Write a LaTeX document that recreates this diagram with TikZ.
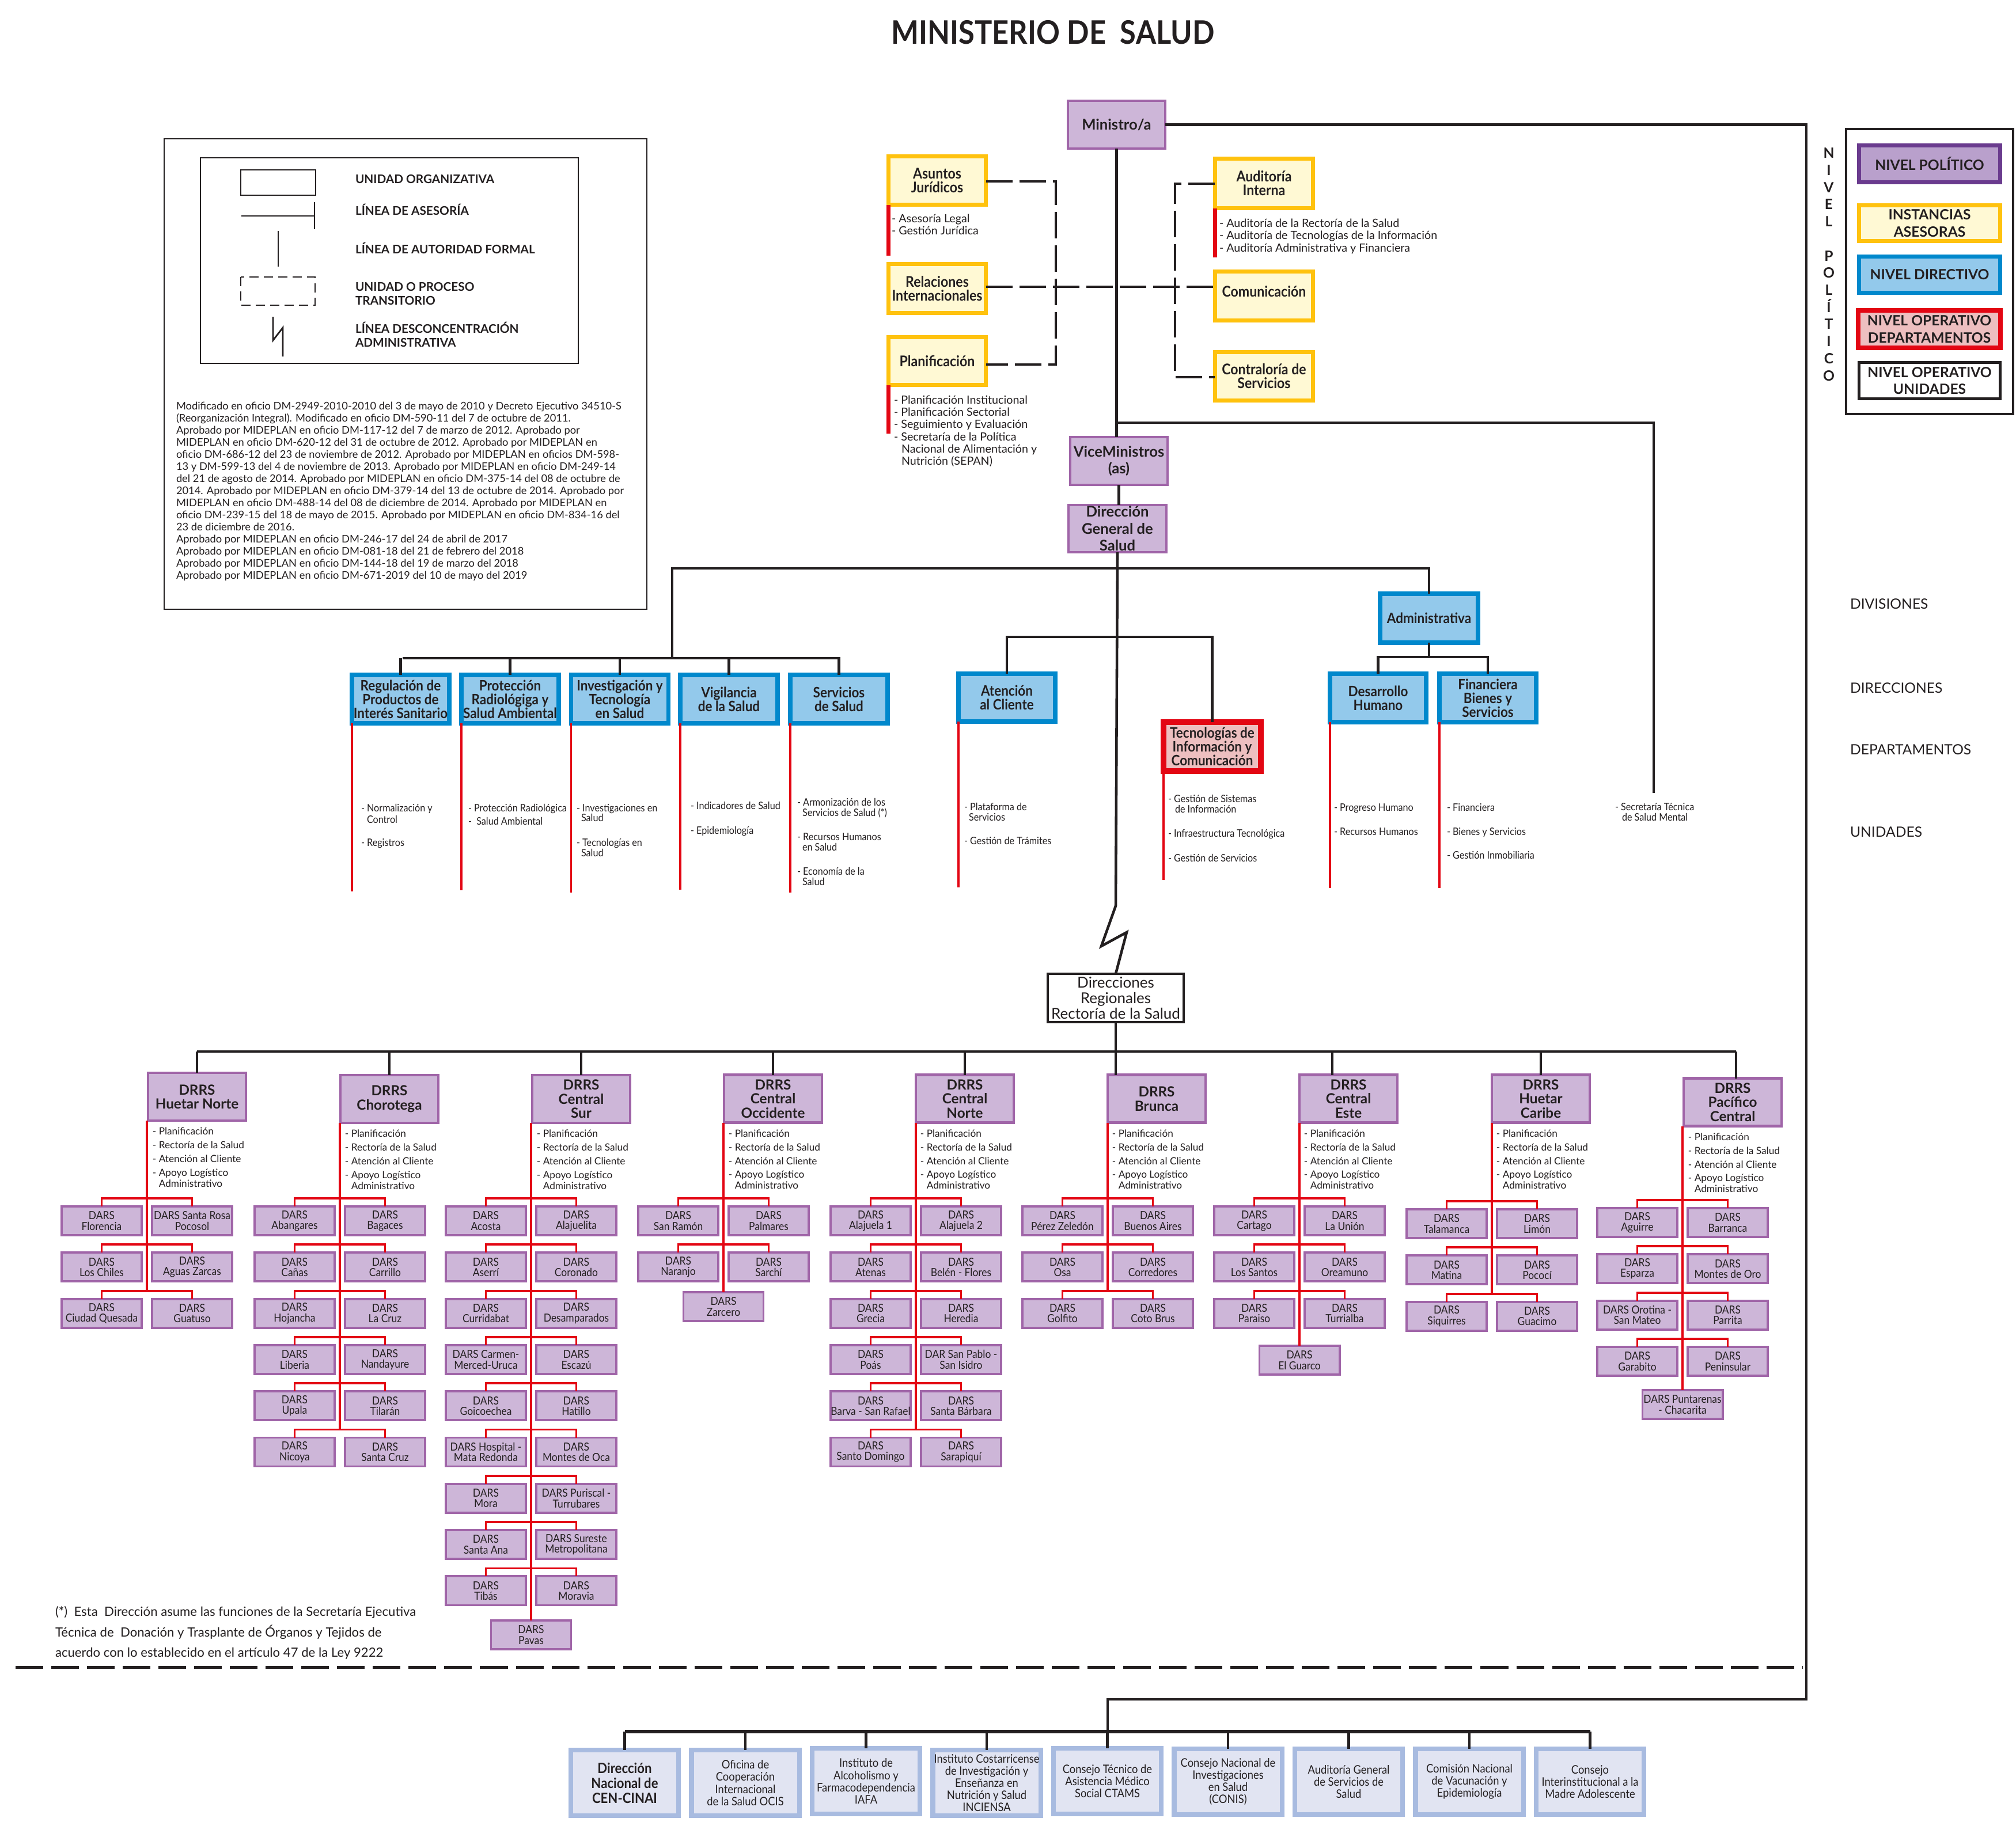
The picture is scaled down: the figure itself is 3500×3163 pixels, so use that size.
\documentclass[tikz,border=0pt]{standalone}
\usepackage{fontspec}
\setmainfont{Lato}
\newfontfamily\lc{Lato}[FakeStretch=0.9]
\usetikzlibrary{calc}
\definecolor{txt}{HTML}{231F20}
\definecolor{pfill}{HTML}{CDB6D8}
\definecolor{pline}{HTML}{A065A8}
\definecolor{yfill}{HTML}{FFF9D4}
\definecolor{yline}{HTML}{FFC20E}
\definecolor{bfill}{HTML}{93C9EB}
\definecolor{bline}{HTML}{0088CC}
\definecolor{rfill}{HTML}{EDBFC0}
\definecolor{rline}{HTML}{E30613}
\definecolor{gfill}{HTML}{E1E4F2}
\definecolor{gline}{HTML}{A8BBE0}
\definecolor{lpfill}{HTML}{B9A0CC}
\definecolor{lpline}{HTML}{6A3B8E}
\definecolor{redc}{HTML}{E30613}
\newcommand\fsz[2]{\fontsize{#1}{#2}\selectfont}
\newcommand\txl[5][itm]{\node[#1] (#2) at (#3,#4) {#5};}
\newcommand\darsrow[5]{%
  \coordinate (#1r#2) at (\xr,#3);
  \node[dars] (#1l#2) at (\xr-78.5,#3+39) {#4};
  \node[dars] (#1q#2) at (\xr+78.5,#3+39) {#5};
  \draw[redl] (#1l#2.north) |- (#1r#2) -| (#1q#2.north);}
\newcommand\ditems{- Planificación\\- Rectoría de la Salud\\- Atención al Cliente\\- Apoyo Logístico\\[-1.4pt]\phantom{- }Administrativo}
\begin{document}
\begin{tikzpicture}[x=0.01cm,y=-0.01cm,
  every node/.style={inner sep=0pt,outer sep=0pt,text=txt},
  conn/.style={draw=txt,line width=1.3pt},
  bus/.style={draw=txt,line width=1.7pt},
  dsh/.style={draw=txt,line width=1.3pt,dash pattern=on 0.46cm off 0.12cm},
  redl/.style={draw=redc,line width=1.1pt},
  redbar/.style={draw=redc,line width=2pt},
  pbox/.style={draw=pline,fill=pfill,line width=1.2pt,align=center,font=\bfseries\fsz{7.3}{8.4}},
  ybox/.style={draw=yline,fill=yfill,line width=1.9pt,align=center,font=\lc\bfseries\fsz{7.3}{6.8}},
  bbox/.style={draw=bline,fill=bfill,line width=2.2pt,align=center,font=\lc\bfseries\fsz{7.1}{6.8}},
  rbox/.style={draw=rline,fill=rfill,line width=2.8pt,align=center,font=\lc\bfseries\fsz{7.1}{6.8}},
  gbox/.style={draw=gline,fill=gfill,line width=2.3pt,align=center,font=\lc\fsz{5.8}{6},minimum width=1.87cm,minimum height=1.14cm},
  wbox/.style={draw=txt,fill=white,line width=1.2pt,align=center,font=\fsz{7.4}{7.7}},
  drrs/.style={pbox,font=\bfseries\fsz{6.9}{6.97},minimum width=1.70cm,minimum height=0.83cm},
  dars/.style={draw=pline,fill=pfill,line width=1.1pt,align=center,font=\lc\fsz{5.5}{5.2},minimum width=1.39cm,minimum height=0.50cm},
  itm/.style={font=\lc\fsz{5.1}{5.4},anchor=base west},
  aitm/.style={font=\fsz{5.6}{6},anchor=base west},
  ditm/.style={font=\fsz{4.9}{6.8},align=left,anchor=north west},
  legl/.style={font=\bfseries\fsz{5.9}{6.8},align=left,anchor=west},
  lgbox/.style={line width=2pt,align=center,font=\bfseries\fsz{7}{8.4},minimum width=2.45cm,minimum height=0.63cm},
  lvl/.style={font=\fsz{7}{8},anchor=west}
]
\useasboundingbox (0,0) rectangle (3500,3163);
\fill[white] (0,0) rectangle (3500,3163);

% ---------- title ----------
\node[font=\lc\bfseries\fsz{16}{17}] (title) at (1828,56) {MINISTERIO DE\ \ SALUD};

% ---------- left legend ----------
\draw[line width=0.8pt,txt] (285,241) rectangle (1123,1058);
\draw[line width=0.8pt,txt] (348,274) rectangle (1004,631);
\draw[line width=0.8pt,txt] (418,295) rectangle (548,339);
\draw[line width=0.8pt,txt] (419,375) -- (546,375) (546,351) -- (546,398);
\draw[line width=0.8pt,txt] (483,401) -- (483,463);
\draw[line width=0.8pt,txt,dash pattern=on 0.16cm off 0.09cm] (418,481) rectangle (547,530);
\draw[line width=0.8pt,txt] (474,550) -- (474,591) -- (491,569) -- (491,619);
\node[legl] (lg1) at (617,311) {UNIDAD ORGANIZATIVA};
\node[legl] (lg2) at (617,364) {LÍNEA DE ASESORÍA};
\node[legl] (lg3) at (617,431) {LÍNEA DE AUTORIDAD FORMAL};
\node[legl] (lg4) at (617,510) {UNIDAD O PROCESO\\TRANSITORIO};
\node[legl] (lg5) at (617,581) {LÍNEA DESCONCENTRACIÓN\\ADMINISTRATIVA};
\node[font=\fsz{5.2}{5.97},align=left,anchor=north west] (lgp) at (306,698) {%
Modificado en oficio DM-2949-2010-2010 del 3 de mayo de 2010 y Decreto Ejecutivo 34510-S\\
(Reorganización Integral). Modificado en oficio DM-590-11 del 7 de octubre de 2011.\\
Aprobado por MIDEPLAN en oficio DM-117-12 del 7 de marzo de 2012. Aprobado por\\
MIDEPLAN en oficio DM-620-12 del 31 de octubre de 2012. Aprobado por MIDEPLAN en\\
oficio DM-686-12 del 23 de noviembre de 2012. Aprobado por MIDEPLAN en oficios DM-598-\\
13 y DM-599-13 del 4 de noviembre de 2013. Aprobado por MIDEPLAN en oficio DM-249-14\\
del 21 de agosto de 2014. Aprobado por MIDEPLAN en oficio DM-375-14 del 08 de octubre de\\
2014. Aprobado por MIDEPLAN en oficio DM-379-14 del 13 de octubre de 2014. Aprobado por\\
MIDEPLAN en oficio DM-488-14 del 08 de diciembre de 2014. Aprobado por MIDEPLAN en\\
oficio DM-239-15 del 18 de mayo de 2015. Aprobado por MIDEPLAN en oficio DM-834-16 del\\
23 de diciembre de 2016.\\
Aprobado por MIDEPLAN en oficio DM-246-17 del 24 de abril de 2017\\
Aprobado por MIDEPLAN en oficio DM-081-18 del 21 de febrero del 2018\\
Aprobado por MIDEPLAN en oficio DM-144-18 del 19 de marzo del 2018\\
Aprobado por MIDEPLAN en oficio DM-671-2019 del 10 de mayo del 2019};

% ---------- right legend ----------
\node[font=\bfseries\fsz{7}{8.45},align=center,anchor=north] (nvp) at (3175,257) {N\\I\\V\\E\\L\\~\\P\\O\\L\\Í\\T\\I\\C\\O};
\draw[line width=1pt,txt] (3205,224) rectangle (3495,719);
\node[lgbox,draw=lpline,fill=lpfill,minimum height=0.64cm] (lgpol) at (3350,284.5) {NIVEL POLÍTICO};
\node[lgbox,draw=yline,fill=yfill,minimum height=0.62cm] (lgase) at (3350,387.5) {INSTANCIAS\\ASESORAS};
\node[lgbox,draw=bline,fill=bfill] (lgdir) at (3350,477) {NIVEL DIRECTIVO};
\node[lgbox,draw=rline,fill=rfill,line width=2.3pt,minimum width=2.47cm,minimum height=0.65cm] (lgdep) at (3349.5,571.5) {NIVEL OPERATIVO\\DEPARTAMENTOS};
\node[lgbox,draw=txt,fill=white,line width=1.4pt] (lguni) at (3350,661) {NIVEL OPERATIVO\\UNIDADES};
\node[lvl] (lvdiv) at (3212,1049) {DIVISIONES};
\node[lvl] (lvdir) at (3212,1195) {DIRECCIONES};
\node[lvl] (lvdep) at (3212,1302) {DEPARTAMENTOS};
\node[lvl] (lvuni) at (3212,1445) {UNIDADES};

% ---------- political level ----------
\node[pbox,minimum width=1.69cm,minimum height=0.83cm] (MIN) at (1938.5,216.5) {Ministro/a};
\node[pbox,minimum width=1.69cm,minimum height=0.83cm] (VM) at (1942.5,800.5) {ViceMinistros\\(as)};
\node[pbox,minimum width=1.70cm,minimum height=0.82cm] (DGS) at (1940,918) {Dirección\\General de\\Salud};

% ---------- advisory ----------
\node[ybox,minimum width=1.69cm,minimum height=0.84cm] (AJ) at (1627,313.5) {Asuntos\\Jurídicos};
\node[ybox,minimum width=1.69cm,minimum height=0.85cm] (RI) at (1627,501) {Relaciones\\Internacionales};
\node[ybox,minimum width=1.69cm,minimum height=0.83cm] (PL) at (1627,627) {Planificación};
\node[ybox,minimum width=1.70cm,minimum height=0.86cm] (AI) at (2194.5,318.5) {Auditoría\\Interna};
\node[ybox,minimum width=1.70cm,minimum height=0.85cm] (COM) at (2194.5,514) {\raisebox{0.16cm}{Comunicación}};
\node[ybox,minimum width=1.70cm,minimum height=0.84cm] (CTS) at (2194.5,653.5) {Contraloría de\\Servicios};
\draw[redbar] (AJ.south west) -- ++(0,88);
\draw[redbar] (AI.south west) -- ++(0,85);
\draw[redbar] (PL.south west) -- ++(0,84);
\txl[aitm]{aj1}{1548}{386}{- Asesoría Legal}
\txl[aitm]{aj2}{1548}{407}{- Gestión Jurídica}
\txl[aitm]{ai1}{2117}{394}{- Auditoría de la Rectoría de la Salud}
\txl[aitm]{ai2}{2117}{415}{- Auditoría de Tecnologías de la Información}
\txl[aitm]{ai3}{2117}{437}{- Auditoría Administrativa y Financiera}
\txl[aitm]{pl1}{1552}{701}{- Planificación Institucional}
\txl[aitm]{pl2}{1552}{722}{- Planificación Sectorial}
\txl[aitm]{pl3}{1552}{743}{- Seguimiento y Evaluación}
\txl[aitm]{pl4}{1552}{765}{- Secretaría de la Política}
\txl[aitm]{pl5}{1565}{786}{Nacional de Alimentación y}
\txl[aitm]{pl6}{1565}{807}{Nutrición (SEPAN)}

\coordinate (dl1) at (1833,315);
\coordinate (dl2) at (1833,633);
\coordinate (dr1) at (2040,319);
\coordinate (dr2) at (2040,655);
\coordinate (dm) at (1900,498);
\draw[dsh] (AJ.east |- dl1) -- (dl1) -- (dl2) -- (PL.east |- dl2);
\draw[dsh] (AI.west |- dr1) -- (dr1) -- (dr2) -- (CTS.west |- dr2);
\draw[dsh] (RI.east |- dm) -- (COM.west |- dm);

% ---------- spine ----------
\coordinate (j1) at (1940,734);
\coordinate (stm) at (2871,1377);
\coordinate (rb) at (3136,2951);
\coordinate (bb) at (1923,3007);
\draw[conn] (MIN.south) -- (MIN.south |- VM.north);
\draw[conn] (MIN.south |- j1) -| (stm);
\draw[conn] (MIN.east) -| (rb) -| (bb);
\draw[conn] (VM.south) -- (VM.south |- DGS.north);
\txl{m1}{2804}{1407}{- Secretaría Técnica}
\txl{m2}{2816}{1425}{de Salud Mental}

% ---------- directions ----------
\node[bbox,minimum width=1.69cm,minimum height=0.84cm] (REG) at (695.5,1214) {Regulación de\\Productos de\\Interés Sanitario};
\node[bbox,minimum width=1.69cm,minimum height=0.84cm] (PRO) at (885.5,1214) {Protección\\Radiológiga y\\Salud Ambiental};
\node[bbox,minimum width=1.69cm,minimum height=0.84cm] (INV) at (1076,1214) {Investigación y\\Tecnología\\en Salud};
\node[bbox,minimum width=1.69cm,minimum height=0.84cm] (VIG) at (1265.5,1214) {Vigilancia\\de la Salud};
\node[bbox,minimum width=1.69cm,minimum height=0.84cm] (SER) at (1456.5,1214) {Servicios\\de Salud};
\node[bbox,minimum width=1.68cm,minimum height=0.83cm] (ATC) at (1748,1211.5) {Atención\\al Cliente};
\node[bbox,minimum width=1.70cm,minimum height=0.85cm] (ADM) at (2481,1073.5) {Administrativa};
\node[bbox,minimum width=1.67cm,minimum height=0.84cm] (DH) at (2392.5,1212) {Desarrollo\\Humano};
\node[bbox,minimum width=1.68cm,minimum height=0.84cm] (FBS) at (2583,1212) {Financiera\\Bienes y\\Servicios};
\node[rbox,minimum width=1.69cm,minimum height=0.85cm] (TIC) at (2104.5,1296.5) {Tecnologías de\\Información y\\Comunicación};

\coordinate (dvl) at (1167,987);
\coordinate (dbl) at (699,1143);
\coordinate (dbr) at (1459,1143);
\coordinate (tbus) at (1933,1106);
\coordinate (abus) at (2481,1141);
\draw[conn] (dvl |- dbl) -- (dvl) -| (ADM.north);
\draw[conn] (dbl) -- (dbr);
\foreach \n in {REG,PRO,INV,VIG,SER} \draw[conn] (\n.north |- dbl) -- (\n.north);
\draw[conn] (ATC.north) |- (tbus) -| (TIC.north);
\draw[conn] (ADM.south) -- (abus);
\draw[conn] (DH.north) |- (abus) -| (FBS.north);

\draw[redl] (REG.south west) -- ++(0,292);
\draw[redl] (PRO.south west) -- ++(0,290);
\draw[redl] (INV.south west) -- ++(0,294);
\draw[redl] (VIG.south west) -- ++(0,289);
\draw[redl] (SER.south west) -- ++(0,294);
\draw[redl] (ATC.south west) -- ++(0,288);
\draw[redl] (TIC.south west) -- ++(0,189);
\draw[redl] (DH.south west) -- ++(0,288);
\draw[redl] (FBS.south west) -- ++(0,288);

\txl{r1}{627}{1409}{- Normalización y}
\txl{r2}{637}{1429}{Control}
\txl{r3}{627}{1469}{- Registros}
\txl{p1}{813}{1409}{- Protección Radiológica}
\txl{p2}{813}{1432}{-\ \ Salud Ambiental}
\txl{v1}{1001}{1409}{- Investigaciones en}
\txl{v2}{1009}{1426}{Salud}
\txl{v3}{1001}{1469}{- Tecnologías en}
\txl{v4}{1009}{1487}{Salud}
\txl{g1}{1199}{1405}{- Indicadores de Salud}
\txl{g2}{1199}{1448}{- Epidemiología}
\txl{s1}{1384}{1399}{- Armonización de los}
\txl{s2}{1393}{1417}{Servicios de Salud (*)}
\txl{s3}{1384}{1459}{- Recursos Humanos}
\txl{s4}{1393}{1477}{en Salud}
\txl{s5}{1384}{1519}{- Economía de la}
\txl{s6}{1393}{1537}{Salud}
\txl{a1}{1674}{1407}{- Plataforma de}
\txl{a2}{1682}{1425}{Servicios}
\txl{a3}{1674}{1466}{- Gestión de Trámites}
\txl{t1}{2028}{1393}{- Gestión de Sistemas}
\txl{t2}{2040}{1411}{de Información}
\txl{t3}{2028}{1453}{- Infraestructura Tecnológica}
\txl{t4}{2028}{1496}{- Gestión de Servicios}
\txl{h1}{2316}{1408}{- Progreso Humano}
\txl{h2}{2316}{1450}{- Recursos Humanos}
\txl{f1}{2512}{1408}{- Financiera}
\txl{f2}{2512}{1450}{- Bienes y Servicios}
\txl{f3}{2512}{1491}{- Gestión Inmobiliaria}

% ---------- regional ----------
\node[wbox,minimum width=2.36cm,minimum height=0.84cm] (DR) at (1937,1733) {Direcciones\\Regionales\\Rectoría de la Salud};
\coordinate (zz1) at (1937,1573);
\coordinate (zz2) at (1912,1643);
\coordinate (zz3) at (1956,1619);
\draw[conn] (DGS.south) -- (zz1) -- (zz2) -- (zz3) -- (DR.north);

\node[drrs] (HN) at (342,1904.5) {DRRS\\Huetar Norte};
\node[drrs] (CH) at (676,1908.5) {DRRS\\Chorotega};
\node[drrs] (CS) at (1009,1908.5) {DRRS\\Central\\Sur};
\node[drrs] (CO) at (1342,1908) {DRRS\\Central\\Occidente};
\node[drrs] (CN) at (1675,1908) {DRRS\\Central\\Norte};
\node[drrs] (BR) at (2008,1908) {DRRS\\Brunca};
\node[drrs] (CE) at (2341,1908) {DRRS\\Central\\Este};
\node[drrs] (HC) at (2675,1908) {DRRS\\Huetar\\Caribe};
\node[drrs] (PC) at (3008,1914) {DRRS\\Pacífico\\Central};

\coordinate (gbl) at (342,1826);
\coordinate (gbr) at (3014,1826);
\coordinate (cec) at (2313,1826);
\draw[conn] (gbl) -- (gbr);
\draw[conn] (DR.south) -- (DR.south |- BR.north);
\foreach \n in {HN,CH,CS,CO,CN,HC} \draw[conn] (\n.north |- gbl) -- (\n.north);
\draw[conn] (cec) -- (cec |- CE.north);
\draw[conn] (gbr) -- (gbr |- PC.north);

\foreach \n/\m in {HN/hni,CH/chi,CS/csi,CO/coi,CN/cni,BR/bri,CE/cei,HC/hci,PC/pci}
  \node[ditm] (\m) at ($(\n.south west)+(8,12)$) {\ditems};

% Huetar Norte
\def\xr{255}
\darsrow{hn}{1}{2081}{DARS\\Florencia}{DARS Santa Rosa\\Pocosol}
\darsrow{hn}{2}{2161.3}{DARS\\Los Chiles}{DARS\\Aguas Zarcas}
\darsrow{hn}{3}{2241.6}{DARS\\Ciudad Quesada}{DARS\\Guatuso}
\draw[redl] (HN.south west -| hnr1) -- (hnr3);
% Chorotega
\def\xr{590}
\darsrow{ch}{1}{2081}{DARS\\Abangares}{DARS\\Bagaces}
\darsrow{ch}{2}{2161.3}{DARS\\Cañas}{DARS\\Carrillo}
\darsrow{ch}{3}{2241.6}{DARS\\Hojancha}{DARS\\La Cruz}
\darsrow{ch}{4}{2321.9}{DARS\\Liberia}{DARS\\Nandayure}
\darsrow{ch}{5}{2402.2}{DARS\\Upala}{DARS\\Tilarán}
\darsrow{ch}{6}{2482.5}{DARS\\Nicoya}{DARS\\Santa Cruz}
\draw[redl] (CH.south west -| chr1) -- (chr6);
% Central Sur
\def\xr{922}
\darsrow{cs}{1}{2081}{DARS\\Acosta}{DARS\\Alajuelita}
\darsrow{cs}{2}{2161.3}{DARS\\Aserrí}{DARS\\Coronado}
\darsrow{cs}{3}{2241.6}{DARS\\Curridabat}{DARS\\Desamparados}
\darsrow{cs}{4}{2321.9}{DARS Carmen-\\Merced-Uruca}{DARS\\Escazú}
\darsrow{cs}{5}{2402.2}{DARS\\Goicoechea}{DARS\\Hatillo}
\darsrow{cs}{6}{2482.5}{DARS Hospital -\\Mata Redonda}{DARS\\Montes de Oca}
\darsrow{cs}{7}{2562.8}{DARS\\Mora}{DARS Puriscal -\\Turrubares}
\darsrow{cs}{8}{2643.1}{DARS\\Santa Ana}{DARS Sureste\\Metropolitana}
\darsrow{cs}{9}{2723.4}{DARS\\Tibás}{DARS\\Moravia}
\node[dars] (csc) at (\xr,2839) {DARS\\Pavas};
\draw[redl] (CS.south west -| csc.north) -- (csc.north);
% Central Occidente
\def\xr{1256}
\darsrow{co}{1}{2081}{DARS\\San Ramón}{DARS\\Palmares}
\darsrow{co}{2}{2161.3}{DARS\\Naranjo}{DARS\\Sarchí}
\node[dars] (coc) at (\xr,2269) {DARS\\Zarcero};
\draw[redl] (CO.south west -| coc.north) -- (coc.north);
% Central Norte
\def\xr{1590}
\darsrow{cn}{1}{2081}{DARS\\Alajuela 1}{DARS\\Alajuela 2}
\darsrow{cn}{2}{2161.3}{DARS\\Atenas}{DARS\\Belén - Flores}
\darsrow{cn}{3}{2241.6}{DARS\\Grecia}{DARS\\Heredia}
\darsrow{cn}{4}{2321.9}{DARS\\Poás}{DAR San Pablo -\\San Isidro}
\darsrow{cn}{5}{2402.2}{DARS\\Barva - San Rafael}{DARS\\Santa Bárbara}
\darsrow{cn}{6}{2482.5}{DARS\\Santo Domingo}{DARS\\Sarapiquí}
\draw[redl] (CN.south west -| cnr1) -- (cnr6);
% Brunca
\def\xr{1923}
\darsrow{br}{1}{2081}{DARS\\Pérez Zeledón}{DARS\\Buenos Aires}
\darsrow{br}{2}{2161.3}{DARS\\Osa}{DARS\\Corredores}
\darsrow{br}{3}{2241.6}{DARS\\Golfito}{DARS\\Coto Brus}
\draw[redl] (BR.south west -| brr1) -- (brr3);
% Central Este
\def\xr{2256}
\darsrow{ce}{1}{2081}{DARS\\Cartago}{DARS\\La Unión}
\darsrow{ce}{2}{2161.3}{DARS\\Los Santos}{DARS\\Oreamuno}
\darsrow{ce}{3}{2241.6}{DARS\\Paraiso}{DARS\\Turrialba}
\node[dars] (cec2) at (\xr,2362) {DARS\\El Guarco};
\draw[redl] (CE.south west -| cec2.north) -- (cec2.north);
% Huetar Caribe
\def\xr{2590}
\darsrow{hc}{1}{2086}{DARS\\Talamanca}{DARS\\Limón}
\darsrow{hc}{2}{2166.3}{DARS\\Matina}{DARS\\Pococí}
\darsrow{hc}{3}{2246.6}{DARS\\Siquirres}{DARS\\Guacimo}
\draw[redl] (HC.south west -| hcr1) -- (hcr3);
% Pacifico Central
\def\xr{2921}
\darsrow{pc}{1}{2084}{DARS\\Aguirre}{DARS\\Barranca}
\darsrow{pc}{2}{2164.3}{DARS\\Esparza}{DARS\\Montes de Oro}
\darsrow{pc}{3}{2244.6}{DARS Orotina -\\San Mateo}{DARS\\Parrita}
\darsrow{pc}{4}{2324.9}{DARS\\Garabito}{DARS\\Peninsular}
\node[dars] (pcc) at (\xr,2439) {DARS Puntarenas\\- Chacarita};
\draw[redl] (PC.south west -| pcc.north) -- (pcc.north);

% ---------- footnote and separator ----------
\node[font=\fsz{6.3}{10.2},align=left,anchor=north west] (fn) at (96,2789) {(*)\ \ Esta\ \ Dirección asume las funciones de la Secretaría Ejecutiva\\Técnica de\ \ Donación y Trasplante de Órganos y Tejidos de\\acuerdo con lo establecido en el artículo 47 de la Ley 9222};
\draw[txt,line width=1.4pt,dash pattern=on 0.48cm off 0.14cm] (27,2895) -- (3130,2895);

% ---------- bottom institutions ----------
\node[gbox,font=\lc\bfseries\fsz{7}{7.4}] (B1) at (1084.5,3096) {Dirección\\Nacional de\\CEN-CINAI};
\node[gbox] (B2) at (1294,3096) {Oficina de\\Cooperación\\Internacional\\de la Salud OCIS};
\node[gbox] (B3) at (1503.5,3093) {Instituto de\\Alcoholismo y\\Farmacodependencia\\IAFA};
\node[gbox] (B4) at (1713,3096) {Instituto Costarricense\\de Investigación y\\Enseñanza en\\Nutrición y Salud\\INCIENSA};
\node[gbox] (B5) at (1922.5,3093) {Consejo Técnico de\\Asistencia Médico\\Social CTAMS};
\node[gbox] (B6) at (2132,3094) {Consejo Nacional de\\Investigaciones\\en Salud\\(CONIS)};
\node[gbox] (B7) at (2341.5,3094) {Auditoría General\\de Servicios de\\Salud};
\node[gbox] (B8) at (2551,3094) {Comisión Nacional\\de Vacunación y\\Epidemiología};
\node[gbox] (B9) at (2760.5,3094) {Consejo\\Interinstitucional a la\\Madre Adolescente};
\draw[bus] (B1.north |- bb) -- (B9.north |- bb);
\foreach \n in {B1,B2,B3,B4,B5,B6,B7,B8,B9} \draw[conn] (\n.north |- bb) -- (\n.north);
\end{tikzpicture}
\end{document}
